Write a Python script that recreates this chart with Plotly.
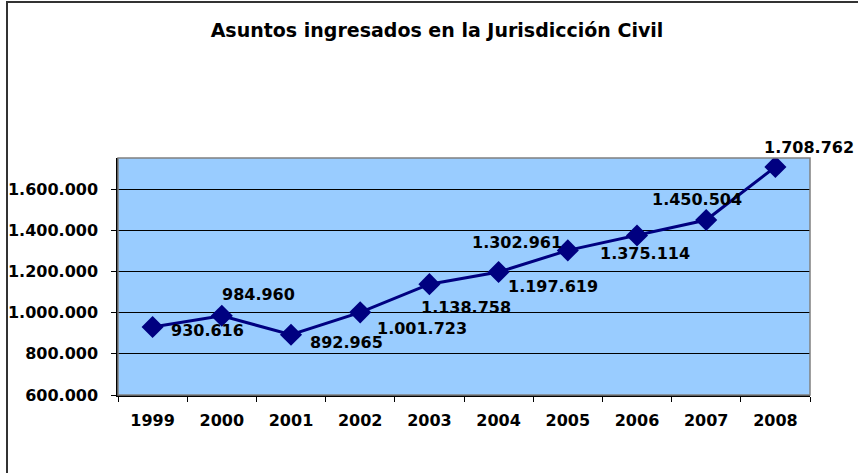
import plotly.graph_objects as go

# data
years = ["1999", "2000", "2001", "2002", "2003", "2004", "2005", "2006", "2007", "2008"]
asuntos = [930616, 984960, 892965, 1001723, 1138758, 1197619, 1302961, 1375114, 1450504, 1708762]

# label offsets (px) from each marker, chart styling only
label_dx = [55, 37, 55, 62, 37, 54, -51, 8, -9, 34]
label_dy = [-4, 21, -8, -16, -23, -14, 8, -18, 21, 19]

font_fam = "DejaVu Sans"
navy = "#000080"

fig = go.Figure()
fig.add_trace(go.Scatter(
    x=years, y=asuntos, mode="lines+markers",
    line=dict(color=navy, width=3),
    marker=dict(symbol="diamond", size=17, color=navy),
    hoverinfo="x+y", showlegend=False
))

# category index positions for the labels
for i, (v, dx, dy) in enumerate(zip(asuntos, label_dx, label_dy)):
    fig.add_annotation(
        x=i, y=v, text=f"{v:,}".replace(",", "."), showarrow=False,
        xshift=dx, yshift=dy,
        font=dict(family=font_fam, size=16, color="black", weight="bold")
    )

# outer chart frame (left edge at x=7px, top at y=1px)
fig.add_shape(type="rect", xref="paper", yref="paper",
              x0=(7 - 118) / 692, x1=1.2, y0=-0.5, y1=1 + (158 - 2) / 237,
              line=dict(color="#333333", width=2), layer="above")
# plot area border (top/right gray)
fig.add_shape(type="rect", xref="paper", yref="paper",
              x0=0, x1=1, y0=0, y1=1,
              line=dict(color="#808080", width=1.5))

fig.update_layout(
    width=858, height=473,
    margin=dict(l=118, r=48, t=158, b=78, autoexpand=False),
    paper_bgcolor="white", plot_bgcolor="#99CCFF",
    separators=",.",
    title=dict(text="Asuntos ingresados en la Jurisdicción Civil",
               x=437 / 858, xanchor="center", y=1 - 30 / 473, yanchor="middle",
               font=dict(family=font_fam, size=19, color="black", weight="bold")),
    xaxis=dict(
        type="category", range=[-0.5, 9.5], tickson="boundaries",
        ticks="outside", ticklen=5, tickangle=0, automargin=False,
        tickcolor="black", showline=True, linecolor="black", linewidth=1.5,
        showgrid=False, ticklabelstandoff=10,
        tickfont=dict(family=font_fam, size=16, color="black", weight="bold")
    ),
    yaxis=dict(
        range=[600000, 1752000], tick0=600000, dtick=200000, tickformat=",d",
        ticks="outside", ticklen=5, tickcolor="black", automargin=False,
        showline=True, linecolor="black", linewidth=1.5,
        showgrid=True, gridcolor="black", gridwidth=1, zeroline=False,
        ticklabelstandoff=10,
        tickfont=dict(family=font_fam, size=16, color="black", weight="bold")
    ),
)

# drop the default page margin so the figure sits at the window corner
fig.write_html("out.html", config={"displayModeBar": False},
               post_script="document.body.style.margin='0';")
